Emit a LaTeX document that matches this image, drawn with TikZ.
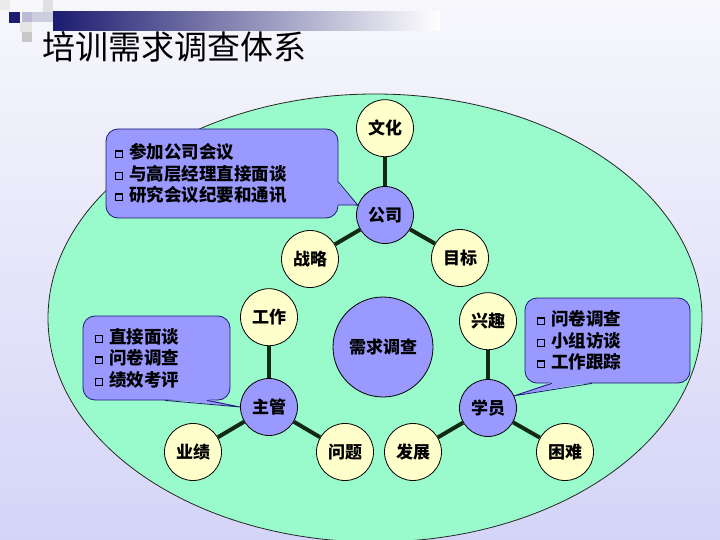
\documentclass[tikz,border=0pt]{standalone}
\usepackage{fontspec}
\setmainfont{Noto Sans CJK SC}
\usetikzlibrary{positioning, calc}

\definecolor{mint}{RGB}{153,250,204}
\definecolor{peri}{RGB}{153,153,255}
\definecolor{cream}{RGB}{255,255,204}
\definecolor{navy}{RGB}{28,28,112}
\definecolor{stem}{RGB}{18,42,18}

% hollow square bullet
\newcommand{\bul}{\raisebox{1.5pt}{\fboxsep=0pt\fboxrule=1.3pt\fbox{\rule{0pt}{5.5pt}\rule{5.5pt}{0pt}}}\hspace{6pt}}

\begin{document}
\begin{tikzpicture}[
    x=1pt, y=-1pt,
    sat/.style={circle, draw=black, line width=0.8pt, fill=cream, minimum size=57pt, inner sep=0pt, font=\fontsize{17}{17}\selectfont\bfseries},
    hub/.style={sat, fill=peri},
    core/.style={hub, minimum size=100pt},
    link/.style={draw=stem, line width=4pt},
    callbox/.style={draw=navy, line width=0.8pt, fill=peri, rounded corners=12pt, align=left, inner ysep=4pt, font=\fontsize{17.5}{21.5}\selectfont\bfseries},
]
\useasboundingbox (0,0) rectangle (720,540);

% slide background
\shade[top color={rgb,255:red,247;green,247;blue,252}, bottom color={rgb,255:red,212;green,212;blue,248}] (0,0) rectangle (720,540);

% title bar and squares
\fill[black!8] (0,0) rectangle (10,10);
\fill[black!12] (43,0) rectangle (53,12);
\fill[navy] (9,12) rectangle (20,23);
\fill[navy!30] (22,12) rectangle (32,22);
\fill[navy!22] (32,12) rectangle (53,22);
\fill[black!10] (20,22) rectangle (32,32);
\fill[black!22] (22,32) rectangle (32,42);
\shade[left color=navy, right color=white] (53,12) rectangle (440,31);
\node[anchor=west, inner sep=0pt, font=\fontsize{33}{33}\selectfont] (title) at (42,47) {培训需求调查体系};

% green area
\draw[fill=mint, draw=black!85, line width=0.8pt] (375,318) ellipse [x radius=327, y radius=224];

% centre
\node[core] (need) at (383,347) {需求调查};

% company
\node[hub] (comp) at (385,215) {公司};
\node[sat, above=29pt of comp] (cult) {文化};
\node[sat] (strat) at ([shift={(-75,44)}]comp) {战略};
\node[sat] (goal) at ([shift={(75,43)}]comp) {目标};

% manager
\node[hub] (mgr) at (269,407) {主管};
\node[sat, above=32pt of mgr] (work) {工作};
\node[sat] (perf) at ([shift={(-76,45)}]mgr) {业绩};
\node[sat] (issue) at ([shift={(76,45)}]mgr) {问题};

% trainee
\node[hub] (stud) at (488,408) {学员};
\node[sat, above=29pt of stud] (intr) {兴趣};
\node[sat] (grow) at ([shift={(-75,44)}]stud) {发展};
\node[sat] (hard) at ([shift={(77,44)}]stud) {困难};

\foreach \a/\b in {comp/cult, comp/strat, comp/goal, mgr/work, mgr/perf, mgr/issue, stud/intr, stud/grow, stud/hard}
    \draw[link] (\a) -- (\b);

% callouts
\node[callbox, minimum width=232pt, minimum height=89pt, text width=214pt, inner xsep=9pt] (tipcomp) at (222,173.5)
    {\bul 参加公司会议\\ \bul 与高层经理直接面谈\\ \bul 研究会议纪要和通讯};
\fill[peri] ([shift={(-1.5,8.5)}]tipcomp.east) -- (comp.160) -- ([shift={(-1.5,31.5)}]tipcomp.east) -- cycle;
\draw[navy, line width=0.8pt] ([shift={(0,8.5)}]tipcomp.east) -- (comp.160) -- ([shift={(0,31.5)}]tipcomp.east);

\node[callbox, minimum width=147pt, minimum height=84pt, text width=123pt, inner xsep=12pt] (tipmgr) at (156.5,358)
    {\bul 直接面谈\\ \bul 问卷调查\\ \bul 绩效考评};
\fill[peri] ([shift={(8.5,-1.5)}]tipmgr.south) -- (mgr.west) -- ([shift={(50.5,-1.5)}]tipmgr.south) -- cycle;
\draw[navy, line width=0.8pt] ([shift={(8.5,0)}]tipmgr.south) -- (mgr.west) -- ([shift={(50.5,0)}]tipmgr.south);

\node[callbox, minimum width=165pt, minimum height=85pt, text width=141pt, inner xsep=12pt] (tipstud) at (607.5,340.5)
    {\bul 问卷调查\\ \bul 小组访谈\\ \bul 工作跟踪};
\fill[peri] ([shift={(-55.5,-1.5)}]tipstud.south) -- (stud.25) -- ([shift={(-15.5,-1.5)}]tipstud.south) -- cycle;
\draw[navy, line width=0.8pt] ([shift={(-55.5,0)}]tipstud.south) -- (stud.25) -- ([shift={(-15.5,0)}]tipstud.south);

\end{tikzpicture}
\end{document}
